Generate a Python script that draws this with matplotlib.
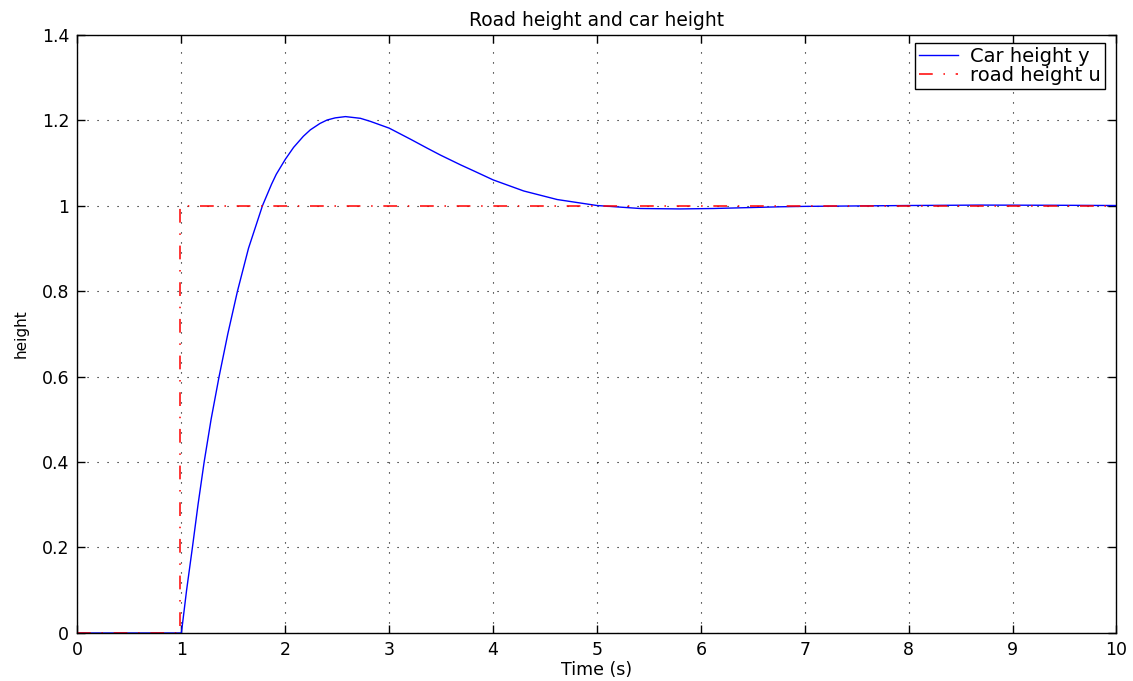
import matplotlib
matplotlib.use("Agg")
import matplotlib.pyplot as plt

plt.rcParams["font.family"] = ["DejaVu Sans"]

# car height y
t_car = [0.0, 1.0, 1.05, 1.106, 1.16, 1.219, 1.286, 1.363, 1.447, 1.54, 1.646,
         1.781, 1.868, 1.913, 2.0, 2.08, 2.174, 2.241, 2.334, 2.402, 2.48, 2.579,
         2.723, 2.817, 3.0, 3.206, 3.367, 3.493, 3.688, 3.814, 4.0, 4.295, 4.617,
         5.0, 5.417, 5.8, 6.12, 6.76, 7.0, 7.5, 8.0, 8.7, 9.5, 10.0]
y_car = [0.0, 0.0, 0.1, 0.2, 0.3, 0.4, 0.5, 0.6, 0.7, 0.8, 0.9,
         1.0, 1.05, 1.073, 1.108, 1.136, 1.162, 1.177, 1.192, 1.200, 1.205, 1.208,
         1.204, 1.197, 1.181, 1.155, 1.134, 1.118, 1.095, 1.081, 1.060, 1.034, 1.014,
         1.0, 0.993, 0.992, 0.993, 0.997, 0.998, 0.999, 1.0, 1.001, 1.0005, 1.0]

# road height u: unit step at t = 1
t_road = [0.0, 0.99, 0.99, 10.0]
u_road = [0.0, 0.0, 1.0, 1.0]

x_ticks = list(range(0, 11))
y_ticks = [0, 0.2, 0.4, 0.6, 0.8, 1, 1.2, 1.4]
y_tick_labels = ["0", "0.2", "0.4", "0.6", "0.8", "1", "1.2", "1.4"]

fig = plt.figure(figsize=(11.33, 6.81), dpi=100)
ax = fig.add_axes([0.0684, 0.0705, 0.917, 0.8788])

ax.plot(t_car, y_car, color="blue", lw=1.0, label="Car height y")
ax.plot(t_road, u_road, color="red", lw=1.1, linestyle=(0, (9, 7, 1, 7)),
        label="road height u")

ax.set_xlim(0, 10)
ax.set_ylim(0, 1.4)
ax.set_xticks(x_ticks)
ax.set_yticks(y_ticks)
ax.set_yticklabels(y_tick_labels)
ax.tick_params(direction="in", length=6, width=1, top=True, right=True,
               labelsize=12.5, pad=6)
ax.grid(True, color="black", linestyle=(0, (1, 8)), linewidth=0.8)
for s in ax.spines.values():
    s.set_linewidth(1.0)

ax.set_title("Road height and car height", fontsize=13.5, pad=6)
ax.set_xlabel("Time (s)", fontsize=12.5, labelpad=1)
ax.set_ylabel("height", fontsize=11, labelpad=9)

leg = ax.legend(loc="upper right", bbox_to_anchor=(1 - 11.5 / 1039, 1 - 8.5 / 598.5),
                borderaxespad=0, fontsize=14, fancybox=False, framealpha=1,
                edgecolor="black", borderpad=0.2, labelspacing=0.0,
                handlelength=2.0, handletextpad=0.65)
leg.get_frame().set_linewidth(1.0)

fig.savefig("out.png", dpi=100)
